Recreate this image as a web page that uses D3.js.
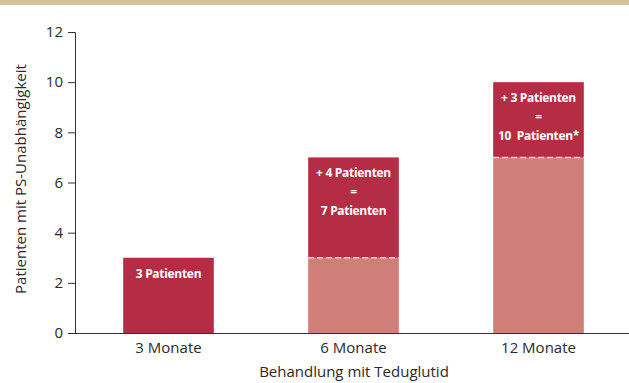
<!DOCTYPE html>
<html><head><meta charset="utf-8">
<script src="https://cdn.jsdelivr.net/npm/d3@7"></script>
<style>body{margin:0;background:#fff;}svg{display:block;font-family:"Open Sans",sans-serif;}</style>
</head><body>
<svg id="c" width="629" height="383"></svg>
<script>
const categories = ["3 Monate", "6 Monate", "12 Monate"];
const baseValues = [0, 3, 7];      // previously independent patients
const addedValues = [3, 4, 3];     // newly independent patients
const barLabels = [["3 Patienten"], ["+ 4 Patienten", "=", "7 Patienten"], ["+ 3 Patienten", "=", "10  Patienten*"]];
const yTicks = [0, 2, 4, 6, 8, 10, 12];
const xTitle = "Behandlung mit Teduglutid";
const yTitle = "Patienten mit PS-Unabhängigkeit";

const svg = d3.select("#c");
svg.append("rect").attr("x",0).attr("y",0).attr("width",629).attr("height",5).attr("fill","#d3c19c");

const y = d3.scaleLinear().domain([0,12]).range([333,32]);
const x = d3.scaleBand().domain(categories).range([76,631]).paddingInner(0.51).paddingOuter(0.255);

const g = svg.append("g");
categories.forEach((c,i)=>{
  const b = baseValues[i], a = addedValues[i];
  if (b>0) {
    g.append("rect").attr("x",x(c)).attr("width",x.bandwidth()).attr("y",y(b)).attr("height",y(0)-y(b)).attr("fill","#cf7f77");
  }
  g.append("rect").attr("x",x(c)).attr("width",x.bandwidth()).attr("y",y(b+a)).attr("height",y(b)-y(b+a)).attr("fill","#b52d45");
  if (b>0) {
    g.append("line").attr("x1",x(c)).attr("x2",x(c)+x.bandwidth()).attr("y1",y(b)).attr("y2",y(b))
      .attr("stroke","#f3d3d3").attr("stroke-width",1.5).attr("stroke-dasharray","6,3");
  }
  const t = g.append("text").attr("fill","#fff").attr("font-weight","bold").attr("font-size",12)
    .attr("text-anchor","middle").attr("letter-spacing","-0.3");
  barLabels[i].forEach((l,j)=>{
    t.append("tspan").attr("x",x(c)+x.bandwidth()/2).attr("y",y(b+a)+20+j*19).attr("xml:space","preserve").text(l);
  });
});

// axes
const ya = svg.append("g").attr("transform","translate(75,0)")
  .call(d3.axisLeft(y).tickValues(yTicks).tickSize(7).tickPadding(5));
ya.select(".domain").attr("stroke","#333").attr("d","M-7,32.5H0.5V333");
ya.selectAll(".tick line").attr("stroke","#333");
ya.selectAll("text").attr("font-size",15).attr("fill","#2a2a2a").attr("font-family","'Open Sans',sans-serif");

const xa = svg.append("g").attr("transform","translate(0,333)")
  .call(d3.axisBottom(x).tickSize(0).tickPadding(9));
xa.select(".domain").attr("stroke","#333").attr("d","M75,0.5H629");
xa.selectAll("text").attr("font-size",15).attr("fill","#2a2a2a").attr("font-family","'Open Sans',sans-serif");

svg.append("text").attr("x",354).attr("y",377).attr("text-anchor","middle").attr("font-size",15).attr("fill","#2a2a2a").text(xTitle);
svg.append("text").attr("transform","translate(26,179) rotate(-90)").attr("text-anchor","middle").attr("font-size",15).attr("fill","#2a2a2a").text(yTitle);
</script>
</body></html>
